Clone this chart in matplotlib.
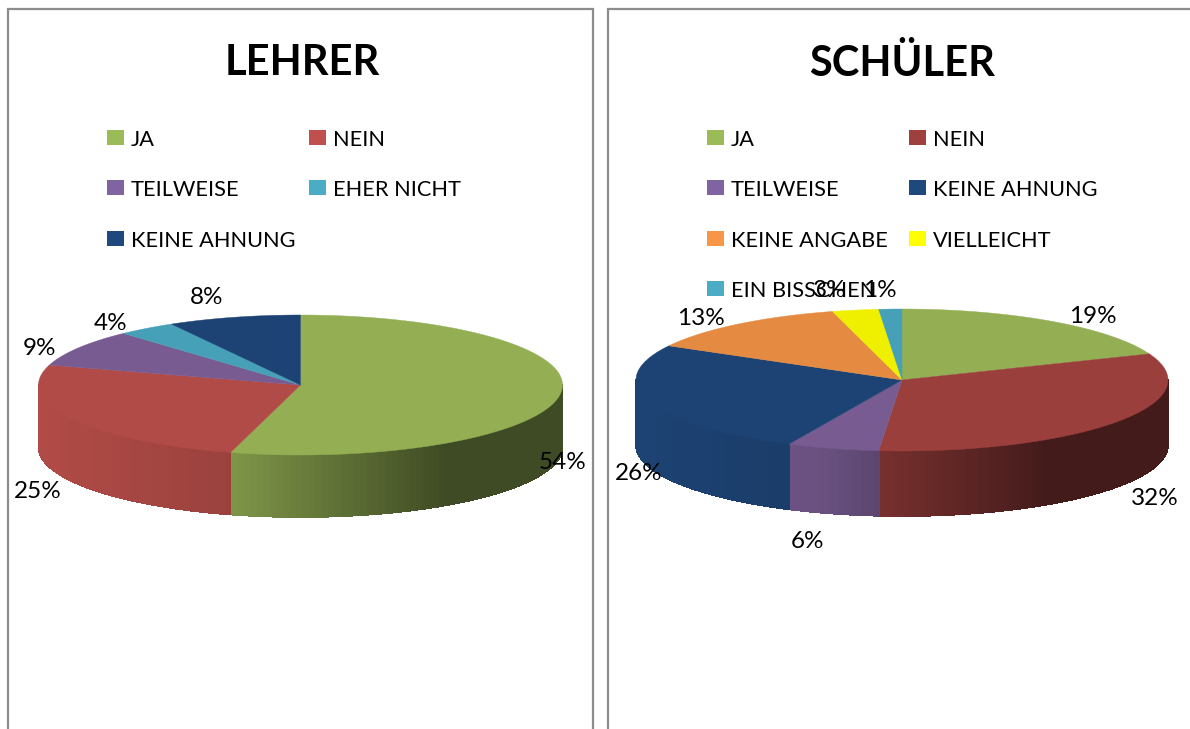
import numpy as np
import matplotlib
matplotlib.use("Agg")
import matplotlib.pyplot as plt
from matplotlib.collections import PolyCollection
from matplotlib.patches import Rectangle, Polygon
from matplotlib.colors import to_rgb

plt.rcParams['font.family'] = ['Lato', 'DejaVu Sans']

# data (the labels show them rounded)
lehrer_names = ["JA", "NEIN", "TEILWEISE", "EHER NICHT", "KEINE AHNUNG"]
lehrer_values = [54.3, 25.3, 8.6, 3.6, 8.2]
schueler_names = ["JA", "NEIN", "TEILWEISE", "KEINE AHNUNG", "KEINE ANGABE", "VIELLEICHT", "EIN BISSCHEN"]
schueler_values = [19, 32.4, 5.6, 26, 12.8, 2.8, 1.4]

# colours of the legend squares and of the pie tops
lehrer_legend = ["#9BBB59", "#C0504D", "#8064A2", "#4BACC6", "#1F497D"]
lehrer_top = ["#93AE53", "#B14B47", "#775B91", "#45A0B8", "#1D4374"]
schueler_legend = ["#9BBB59", "#9E413E", "#8064A2", "#1F497D", "#F79646", "#FFFF00", "#4BACC6"]
schueler_top = ["#93AE53", "#9B3F3D", "#775B91", "#1D4374", "#E58B41", "#EFEF00", "#45A0B8"]

# layout, in pixels of the picture
lehrer_labels = [(563, 461), (38, 490), (39, 347), (111, 322), (207, 296)]
schueler_labels = [(1093, 315), (1155, 497), (807, 540), (639, 472), (701, 317), (830, 289), (880, 289)]
legend_rows = [139, 189, 240, 290]


def draw_pie(ax, values, colors, cx, cy, rx, ry, depth):
    edges = np.cumsum([0] + list(values)) / sum(values) * 2 * np.pi

    # side wall first, in bands so it can get darker to the right
    for i, col in enumerate(colors):
        a0, a1 = max(edges[i], np.pi / 2), min(edges[i + 1], 3 * np.pi / 2)
        if a1 <= a0:
            continue
        t = np.linspace(a0, a1, int((a1 - a0) * 40) + 2)
        x = np.sin(t)
        y = cy - ry * np.cos(t)
        strips = []
        shades = []
        for k in range(len(t) - 1):
            x0, x1 = cx + rx * x[k], cx + rx * x[k + 1]
            strips.append([(x0, y[k]), (x1, y[k + 1]), (x1, y[k + 1] + depth), (x0, y[k] + depth)])
            shades.append(np.interp((x[k] + x[k + 1]) / 2, [-1, -0.3, 0.55, 1], [1.0, 0.88, 0.43, 0.43]))
        rgb = np.array(to_rgb(col))
        ax.add_collection(PolyCollection(strips, facecolors=[rgb * s for s in shades],
                                         edgecolors=[rgb * s for s in shades], linewidths=0.6,
                                         antialiaseds=False, zorder=2))

    # top face
    for i, col in enumerate(colors):
        t = np.linspace(edges[i], edges[i + 1], max(int((edges[i + 1] - edges[i]) * 80), 2) + 1)
        pts = [(cx, cy)] + list(zip(cx + rx * np.sin(t), cy - ry * np.cos(t)))
        ax.add_patch(Polygon(pts, closed=True, facecolor=col, edgecolor=col, linewidth=0.3, zorder=3))


def draw_legend(ax, names, colors, x_cols):
    for i, (name, col) in enumerate(zip(names, colors)):
        col_x = x_cols[i % 2]
        y = legend_rows[i // 2]
        ax.add_patch(Rectangle((col_x, y - 9), 17, 15, facecolor=col, edgecolor="none", zorder=4))
        ax.text(col_x + 24, y + 1, name, fontsize=15.7, va="center", ha="left", color="black", zorder=5)


def draw_labels(ax, values, places):
    for v, (x, y) in zip(values, places):
        ax.text(x, y + 1, f"{round(v)}%", fontsize=17.5, ha="center", va="center", color="black", zorder=6)


fig = plt.figure(figsize=(11.9, 7.29), dpi=100)
ax = fig.add_axes([0, 0, 1, 1])
ax.set_xlim(0, 1190)
ax.set_ylim(729, 0)
ax.axis("off")

# the two frames run off the bottom, the second one also off the right
ax.add_patch(Rectangle((8, 9), 585, 740, facecolor="white", edgecolor="#8c8c8c", linewidth=1.6))
ax.add_patch(Rectangle((608, 9), 600, 740, facecolor="white", edgecolor="#8c8c8c", linewidth=1.6))

ax.text(302, 63, "LEHRER", fontsize=30, fontweight="bold", ha="center", va="center")
ax.text(902, 63, "SCHÜLER", fontsize=30, fontweight="bold", ha="center", va="center")

draw_pie(ax, lehrer_values, lehrer_top, 300.5, 385, 262, 70, 62)
draw_pie(ax, schueler_values, schueler_top, 902, 380, 266, 71, 65)

draw_legend(ax, lehrer_names, lehrer_legend, [107, 309])
draw_legend(ax, schueler_names, schueler_legend, [707, 909])

draw_labels(ax, lehrer_values, lehrer_labels)
draw_labels(ax, schueler_values, schueler_labels)

fig.savefig("out.png", dpi=100)
